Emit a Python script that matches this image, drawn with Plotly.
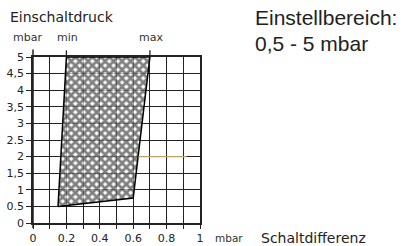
import plotly.graph_objects as go

# data
poly_x = [0.15, 0.2, 0.7, 0.6, 0.15]
poly_y = [0.5, 5.0, 5.0, 0.75, 0.5]
x_ticks = [0, 0.1, 0.2, 0.3, 0.4, 0.5, 0.6, 0.7, 0.8, 0.9, 1.0]
x_labels = ["0", "", "0.2", "", "0.4", "", "0.6", "", "0.8", "", "1"]
y_ticks = [0, 0.5, 1, 1.5, 2, 2.5, 3, 3.5, 4, 4.5, 5]
y_labels = ["0", "0.5", "1", "1,5", "2", "2.5", "3", "3,5", "4", "4,5", "5"]

L, R, T, B = 33, 204, 57, 23
W, H = 404, 246
pw = W - L - R
ph = H - T - B

def px(p):
    return (p - L) / pw

def py(q):
    return (H - B - q) / ph

fig = go.Figure()
fig.add_trace(go.Scatter(
    x=poly_x, y=poly_y, mode="lines", fill="toself",
    line=dict(color="black", width=1.5),
    fillcolor="rgba(255,255,255,0)",
    fillpattern=dict(shape="x", fgcolor="black", bgcolor="rgba(255,255,255,0.65)",
                     size=6, solidity=0.72),
    hoverinfo="skip", showlegend=False,
))

font_axis = dict(family="DejaVu Sans", size=11, color="#222")

fig.update_layout(
    width=W, height=H,
    margin=dict(l=L, r=R, t=T, b=B, pad=0, autoexpand=False),
    paper_bgcolor="white", plot_bgcolor="white",
    xaxis=dict(range=[0, 1], tickvals=x_ticks, ticktext=x_labels, automargin=False,
               showgrid=True, gridcolor="#222", gridwidth=1.3,
               showline=True, linecolor="#222", linewidth=1.5, mirror=True,
               ticks="outside", ticklen=4, tickcolor="#222", tickwidth=1.3,
               zeroline=False, tickfont=font_axis, fixedrange=True),
    yaxis=dict(range=[0, 5], tickvals=y_ticks, ticktext=y_labels, automargin=False,
               showgrid=True, gridcolor="#222", gridwidth=1.3,
               showline=True, linecolor="#222", linewidth=1.5, mirror=True,
               ticks="outside", ticklen=5, tickcolor="#222", tickwidth=1.3,
               zeroline=False, tickfont=font_axis, fixedrange=True),
)

shapes = [
    dict(type="line", xref="paper", yref="paper", x0=0, x1=0, y0=-0.03, y1=1.045,
         line=dict(color="#222", width=1.5)),
    dict(type="line", xref="paper", yref="paper", x0=0.2, x1=0.2, y0=1.0, y1=1.04,
         line=dict(color="#222", width=1.3)),
    dict(type="line", xref="paper", yref="paper", x0=0.7, x1=0.7, y0=1.0, y1=1.04,
         line=dict(color="#222", width=1.3)),
    dict(type="line", xref="paper", yref="paper", x0=0.63, x1=0.92, y0=0.4, y1=0.4,
         line=dict(color="#b8a468", width=1.3)),
]
fig.update_layout(shapes=shapes)

small = dict(family="DejaVu Sans", size=11, color="#333")
ann = [
    dict(text="Einschaltdruck", x=px(9), y=py(17), xanchor="left", yanchor="middle",
         font=dict(family="DejaVu Sans", size=14, color="#222")),
    dict(text="mbar", x=px(12), y=py(38), xanchor="left", yanchor="middle", font=small),
    dict(text="min", x=px(67), y=py(38), xanchor="center", yanchor="middle", font=small),
    dict(text="max", x=px(151), y=py(38), xanchor="center", yanchor="middle", font=small),
    dict(text="Einstellbereich:", x=px(254), y=py(18), xanchor="left", yanchor="middle",
         font=dict(family="Liberation Sans", size=21, color="#222")),
    dict(text="0,5 - 5 mbar", x=px(254), y=py(43), xanchor="left", yanchor="middle",
         font=dict(family="Liberation Sans", size=21, color="#222")),
    dict(text="mbar", x=px(214), y=py(238), xanchor="left", yanchor="middle",
         font=dict(family="DejaVu Sans", size=10.5, color="#333")),
    dict(text="Schaltdifferenz", x=px(260), y=py(238), xanchor="left", yanchor="middle",
         font=dict(family="DejaVu Sans", size=14, color="#222")),
]
for a in ann:
    a.update(xref="paper", yref="paper", showarrow=False, borderpad=0)
fig.update_layout(annotations=ann)

fig.write_html("out.html", config=dict(displayModeBar=False),
               post_script="document.body.style.margin='0';document.body.style.overflow='hidden';")
